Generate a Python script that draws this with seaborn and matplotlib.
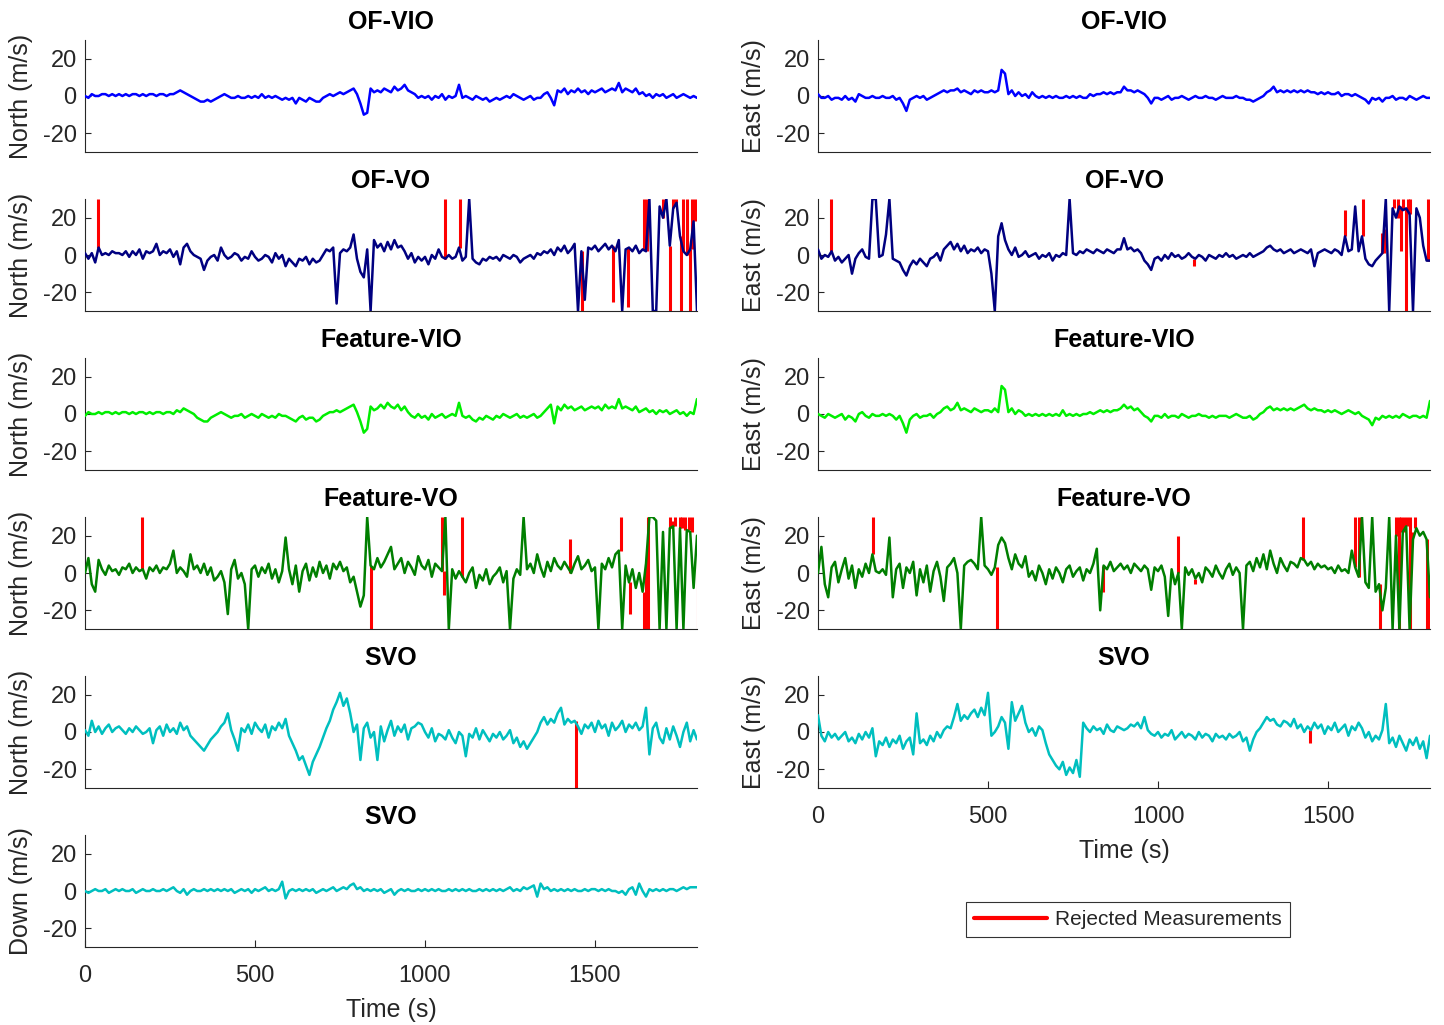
import numpy as np
import pandas as pd
import matplotlib
matplotlib.use("Agg")
import matplotlib.pyplot as plt
from matplotlib.lines import Line2D
import seaborn as sns

time_s = list(range(0, 1801, 10))

ofvio_north = [
    0, -1, 1, 0, 0, 1, 1, 0, 1, 0,
    1, 0, 1, 0, 1, 1, 0, 1, 0, 1,
    1, 0, 1, 1, 0, 1, 1, 2, 3, 2,
    1, 0, -1, -2, -3, -3, -2, -3, -2, -1,
    0, 1, 0, -1, -1, 0, -1, -1, 0, -1,
    0, -1, 1, -1, 0, -1, 0, -1, -2, -1,
    -2, -1, -4, -1, -2, -3, -1, -2, -3, -3,
    -1, 0, 1, 0, 1, 2, 1, 2, 3, 4,
    1, -4, -10, -9, 4, 2, 3, 2, 4, 3,
    2, 5, 3, 4, 6, 3, 2, 1, -1, 0,
    -1, 0, -2, 0, -1, 1, -2, 0, -1, 0,
    6, -1, 0, -1, -2, 0, -1, -2, -1, -3,
    -2, -1, -2, -1, 0, -1, 1, 0, -1, -2,
    -1, 0, -2, -1, -1, 1, 2, -1, -5, 3,
    2, 4, 1, 3, 2, 4, 2, 3, 1, 3,
    2, 3, 4, 2, 3, 4, 3, 7, 2, 4,
    3, 2, 4, 1, 2, 0, 1, -1, 1, 0,
    1, -1, 0, 1, -1, 0, 1, 0, -1, 0,
    -1]

ofvio_east = [
    1, -1, -1, 0, -2, -1, -1, -2, 0, -2,
    -1, -3, 1, 0, -1, -1, 0, -1, -1, 0,
    -1, -1, 0, -2, -1, -4, -8, -2, -1, 0,
    -1, 0, -2, -1, 0, 1, 2, 3, 2, 3,
    3, 4, 2, 3, 2, 1, 3, 2, 3, 2,
    2, 3, 2, 3, 14, 12, 1, 3, 0, 2,
    0, 1, -1, 2, 0, -1, 0, -1, 0, -1,
    0, -1, -1, 0, -1, 0, -1, 0, -1, -1,
    1, 0, 1, 1, 2, 1, 2, 1, 2, 2,
    5, 3, 3, 2, 3, 2, 1, -1, -4, -1,
    -1, -2, -1, 0, -2, -1, -1, 0, -1, -2,
    -1, 0, -1, -1, 0, -1, -1, -2, -1, 0,
    -1, -1, -1, 0, -1, -1, -2, -2, -3, -2,
    -1, 0, 2, 3, 5, 2, 3, 2, 3, 2,
    3, 2, 3, 2, 3, 2, 2, 1, 2, 1,
    2, 1, 1, 2, 0, 1, 1, 0, 1, 0,
    -1, -2, -4, -1, -2, -1, -3, -1, -1, 0,
    -2, -1, -1, -2, 0, -1, -2, -1, 0, -1,
    -1]

ofvo_north = [
    1, -2, 1, -4, 4, 0, 1, 0, 2, 1,
    1, 0, 2, -1, 2, 0, 3, -2, 2, 1,
    2, 6, 0, 2, 1, 3, -1, 2, -5, 4,
    6, 2, 0, -1, -2, -8, -3, -1, 0, -3,
    4, 0, -2, -1, 1, 0, -3, -1, -2, 2,
    -1, -3, -2, 0, -1, -4, 1, -2, 0, -6,
    -2, -4, -6, -2, -3, -1, -5, -2, -4, -3,
    0, 3, 2, 4, -26, 1, 3, 2, 4, 11,
    -2, -9, -12, 3, -30, 8, 4, 6, 2, 7,
    3, 8, 4, 5, 2, -2, 1, -4, -1, -3,
    -1, -5, 0, -2, 3, -1, -2, 0, -2, -1,
    4, -3, -1, 30, -2, -4, -5, -2, -3, -1,
    -2, -1, -3, 0, -1, -2, 0, -1, -4, -2,
    -1, 0, -2, 1, 0, 2, 1, 3, 0, 4,
    2, 5, 1, 3, 6, -30, 2, -24, 4, 3,
    5, 2, 4, 6, 3, 5, 2, 8, -30, 3,
    4, 2, 5, 1, 3, 2, 30, -30, -30, 26,
    20, 30, 5, 25, 28, 10, 2, 0, 3, 18,
    -30]
ofvo_north_rej_t = [37, 1060, 1104, 1462, 1553, 1596, 1645, 1652, 1665, 1685, 1700,
                    1708, 1722, 1730, 1738, 1752, 1760, 1770, 1778, 1785, 1795]
ofvo_north_rej_v = [30, 30, 30, -30, -25, -28, 30, 30, 30, -30, 30,
                    30, -30, 30, 30, -30, 30, 30, -30, 30, 30]

ofvo_east = [
    3, -2, 0, -1, 2, -3, -1, -4, -2, 0,
    -10, -2, 1, 3, -1, -2, 30, 30, -1, 0,
    11, 30, -2, -3, -4, -8, -11, -6, -3, -5,
    -2, -4, -6, -2, -1, 1, -3, 3, 5, 7,
    3, 6, 2, 5, 1, 3, 2, 4, 1, 3,
    2, -10, -30, 10, 17, 8, 3, 0, 4, -1,
    0, 2, -1, 0, 1, -2, 0, -1, 1, -3,
    0, -1, 1, 0, 30, 1, 0, 2, 1, 3,
    2, 1, 3, 2, 1, 3, 2, 1, 3, 3,
    9, 3, 4, 2, 3, 1, -3, -5, -8, -2,
    -1, -3, 0, -2, 1, -1, 0, -2, -1, 1,
    -1, -2, 0, -1, -3, 0, -1, -2, 0, -1,
    1, -1, 0, -2, -1, 0, -1, 1, -1, 0,
    1, 2, 4, 5, 3, 2, 3, 1, 2, 3,
    1, 2, 3, 2, 1, 3, -6, 1, 2, 3,
    2, 1, 3, 2, 0, 10, 2, 3, 26, 2,
    10, -2, -5, -6, -3, -1, 1, 30, -30, 25,
    20, 26, 24, 25, 22, -30, 25, 20, 5, -3,
    -3]
ofvo_east_rej_t = [37, 521, 1106, 1550, 1602, 1658, 1664, 1683, 1695, 1705, 1714,
                   1720, 1728, 1736, 1742, 1748, 1793, 1798]
ofvo_east_rej_v = [30, -30, -6, 24, 30, 12, 14, -30, 30, 30, 2,
                   30, -30, 30, 30, -30, 30, 16]

fvio_north = [
    -1, 1, 0, 0, 1, 0, 1, 1, 0, 1,
    0, 1, 1, 0, 1, 0, 1, 1, 0, 1,
    0, 1, 1, 0, 1, 1, 0, 2, 1, 3,
    2, 1, 0, -2, -3, -4, -4, -2, -1, 0,
    1, 0, -1, -2, -1, -1, 0, -2, -1, 0,
    -1, -2, 0, -1, -2, -1, -2, 0, -1, -1,
    -2, -3, -4, -2, -1, -3, -2, -2, -4, -3,
    -1, 0, 1, 1, 2, 1, 2, 3, 4, 5,
    1, -4, -10, -8, 4, 2, 3, 5, 3, 6,
    4, 3, 5, 2, 4, 1, -1, -2, 0, -2,
    -1, -3, 0, -2, -1, 0, -2, -1, 0, -1,
    6, -1, -2, -1, -3, -4, -2, -3, -1, -2,
    -3, -1, -2, 0, -1, -2, -1, 0, -2, -1,
    -2, -1, 0, -2, -1, 1, 3, 5, -5, 4,
    2, 5, 3, 4, 2, 3, 4, 2, 3, 4,
    3, 4, 2, 5, 3, 4, 3, 8, 3, 4,
    3, 2, 4, 1, 2, 3, 1, 2, 0, 2,
    1, 2, 0, 1, 2, 0, 1, -1, 1, 0,
    8]

fvio_east = [
    0, -1, -2, 0, -1, -2, -1, 0, -3, -1,
    -2, -4, 0, 1, -1, -2, 0, -1, -1, 0,
    -1, 0, -1, -3, -1, -5, -10, -3, -1, 0,
    -2, -1, -1, 0, -2, 0, 1, 3, 4, 2,
    3, 6, 2, 3, 2, 1, 3, 2, 1, 2,
    2, 1, 3, 1, 15, 13, 1, 3, 0, 2,
    1, -1, 0, -1, 0, -1, 0, -1, 0, -1,
    0, -1, 2, -1, 0, -1, 0, -1, 0, 0,
    1, 0, 1, 2, 1, 2, 1, 2, 2, 3,
    5, 3, 4, 2, 3, 1, -1, -2, -4, -1,
    -1, -2, 0, -2, -1, -1, -2, 0, -1, -2,
    -1, -1, 0, -1, -1, -2, -1, -2, -1, -1,
    -1, -2, -1, 0, -1, -2, -2, -1, -3, -2,
    0, 1, 3, 4, 2, 3, 2, 3, 2, 3,
    2, 3, 4, 5, 3, 2, 3, 2, 2, 1,
    2, 1, 2, 1, 0, 1, 2, 1, 0, 1,
    -1, -2, -3, -6, -2, -3, -1, -2, -1, -2,
    -1, -2, 0, -1, -2, -1, -1, -2, -1, -2,
    7]

fvo_north = [
    0, 8, -6, -10, 7, 2, -1, 4, 1, 2,
    -1, 3, 2, 5, 0, 3, 1, 2, -3, 3,
    1, 4, 0, 3, 2, 5, 12, 0, 3, 1,
    -2, 10, 2, 4, 0, 5, -1, 3, -4, -2,
    1, -5, -22, 2, 7, -3, 0, -6, -30, 2,
    4, -2, 3, 0, 5, -3, 2, -5, 1, 19,
    2, -6, 4, -10, 1, 5, -4, 3, -2, 6,
    0, 4, -3, 5, 2, 6, 1, 3, -5, -2,
    -10, -18, -12, 30, 4, 2, 8, 3, 6, 10,
    14, 2, 5, 8, 0, 6, 3, -1, 9, 4,
    2, 7, -2, 5, 3, 1, 30, -30, 2, -3,
    1, -2, -5, 0, 3, -8, -1, -4, 2, -6,
    -2, 0, 3, -5, 1, -30, -3, 2, -1, 30,
    2, 5, 0, 10, 3, -2, 6, 1, 8, 4,
    2, 6, 3, 0, 5, 9, 2, 4, 7, 1,
    3, -30, 5, 2, 8, 3, 10, 12, -30, 4,
    -5, 2, -8, 0, -10, 5, 30, 30, 28, -30,
    22, -30, 24, 25, -30, 24, -30, 23, 22, -8,
    20]
fvo_north_rej_t = [168, 840, 1050, 1055, 1108, 1427, 1575, 1603, 1643, 1650, 1657,
                   1722, 1728, 1735, 1750, 1755, 1766, 1775, 1785, 1803]
fvo_north_rej_v = [30, -30, 30, -12, 30, 18, 30, -22, -30, -30, -30,
                   30, 28, 30, 30, 30, 30, 30, 30, -30]

fvo_east = [
    0, 14, -6, -13, 3, 6, -5, 2, 8, -3,
    4, -8, 2, -2, 5, 0, 10, 1, 0, 2,
    -1, 19, -13, 2, 5, -8, 3, 0, 6, -12,
    2, -5, 4, -10, 1, 6, -2, -15, 3, 5,
    8, 0, -30, 4, 6, 7, 5, 2, 30, 4,
    2, -1, 3, 15, 19, 16, 8, 2, 10, 5,
    3, 9, -2, 1, -4, 4, 0, -6, 2, -3,
    3, 0, -5, 2, 4, -2, 1, 3, -4, 2,
    0, 5, 13, -20, 4, 2, 6, 1, 3, 5,
    2, 4, 0, 5, 3, 1, 4, 2, -9, 3,
    1, 4, -2, -23, 2, -6, 0, -30, 3, -1,
    2, -3, 0, -5, 3, 1, -2, 4, 0, -3,
    2, 5, -1, 3, 0, -30, 4, 6, 1, 8,
    3, 10, 2, 12, 5, 0, 8, 4, 1, 6,
    5, 3, 8, 7, 4, 6, 2, 5, 3, 4,
    2, 3, 0, 4, 1, 2, 0, 12, 3, -2,
    30, -5, -8, 30, -10, -6, -20, -8, 30, -30,
    20, -30, 22, 25, -30, 18, 24, 20, 22, 18,
    -13]
fvo_east_rej_t = [163, 525, 838, 1058, 1110, 1427, 1578, 1590, 1652, 1660, 1700,
                  1708, 1716, 1724, 1732, 1740, 1748, 1756, 1790, 1800]
fvo_east_rej_v = [30, -30, -10, 20, -6, 30, 30, 30, -30, -20, 30,
                  30, 30, 30, 30, 30, 22, 30, -30, -30]

svo_north = [
    1, -2, 6, 0, 3, -1, 2, 4, 0, 2,
    3, 1, -1, 2, 0, 3, 1, -1, 0, 2,
    -6, 1, 3, -2, 4, 0, 2, -1, 5, 1,
    3, -2, -4, -6, -8, -10, -7, -4, -2, 0,
    3, 5, 10, 1, -4, -10, 2, 0, 4, -1,
    5, 2, 0, 4, -3, 3, 1, 5, 2, 7,
    -2, -6, -10, -15, -13, -18, -23, -16, -12, -8,
    -3, 2, 6, 12, 16, 21, 14, 18, 10, 0,
    4, -15, 2, 5, -3, 0, -15, 3, -5, 1,
    6, -2, 3, 0, 4, -4, 2, 3, 5, 4,
    0, -3, 2, -5, -1, -2, -4, 1, -3, -6,
    0, -2, -13, -1, -3, 2, -4, 1, -2, -5,
    -1, -3, 0, -4, -2, 1, -6, -3, -8, -5,
    -9, -6, -3, 0, 5, 8, 4, 7, 5, 10,
    13, 4, 7, 5, 6, 3, -1, 4, 2, 5,
    0, 6, 2, 4, -2, 5, 1, 3, 6, 0,
    4, 2, 5, 1, 3, 13, -12, 2, 5, -3,
    -6, 2, -4, 3, -2, -8, 0, 5, -5, 1,
    -4]
svo_north_rej_t = [1444]
svo_north_rej_v = [-30]

svo_east = [
    9, -2, -5, 0, -3, -1, -4, -2, 0, -5,
    -3, -6, -1, -4, 0, -3, 2, -13, -5, -7,
    -3, -8, -4, -6, -2, -9, -5, -3, -12, 10,
    -6, -4, -7, -2, -5, 0, -3, 1, 3, 2,
    8, 15, 6, 9, 7, 10, 12, 8, 13, 9,
    21, -2, 0, 3, 8, 5, -9, 16, 6, 10,
    14, 5, 0, 2, -2, 3, 1, -6, -12, -15,
    -18, -20, -16, -23, -19, -22, -15, -24, 5, 2,
    0, 3, 1, 2, -1, 4, 1, 0, 3, 2,
    1, 2, 4, 3, 5, 2, 8, 1, -1, -2,
    0, -3, -1, -2, 1, -4, -2, 0, -3, -1,
    -2, -4, 0, -3, -1, -2, -5, -1, -3, -2,
    -4, -1, -3, -2, 0, -5, -3, -10, -4, 0,
    2, 5, 8, 6, 7, 4, 3, 6, 5, 3,
    7, 2, 4, 0, 3, 1, 5, 2, 4, -1,
    3, 1, 5, 0, 2, 4, -2, 3, 1, 5,
    2, -3, 0, -5, -2, -4, 1, 15, -6, -3,
    -8, -2, -6, -10, -4, -7, -3, -9, -5, -14,
    -2]
svo_east_rej_t = [1448]
svo_east_rej_v = [-6]

svo_down = [
    0, -1, 0, 1, 0, 0, 1, -1, 0, 1,
    0, 1, 0, 0, 1, -1, 0, 1, 0, 0,
    1, 0, 0, 1, 0, 1, 2, 0, -1, 1,
    -2, 0, 1, 0, 0, 1, 0, 1, 0, 1,
    0, 1, 0, 1, -1, 0, 1, 0, 1, -1,
    1, 0, 1, 2, 0, 1, 0, 1, 5, -4,
    0, 1, 0, 1, 0, 1, 0, 1, -1, 0,
    1, 0, 1, 2, 0, 1, 2, 1, 3, 4,
    1, 2, 0, 1, 0, 1, 0, 1, -1, 0,
    1, -2, 0, 1, 0, 1, 0, 0, 1, 0,
    1, 0, 1, 0, 1, 0, 0, 1, 0, 1,
    0, 1, 0, 1, 0, 0, 1, 0, 1, 0,
    1, 0, 1, 0, 1, 2, 0, 1, 0, 2,
    1, 2, 3, -3, 4, 1, 2, 0, 1, 0,
    1, 0, 1, 0, 1, 0, 0, 1, 0, 1,
    1, 0, 1, 0, 1, 0, 0, -1, 0, -2,
    1, 2, -2, 4, 0, -3, 1, 0, 1, 0,
    1, 0, 1, 1, 0, 1, 2, 1, 2, 2,
    2]

x_ticks = [0, 500, 1000, 1500]
y_ticks = [-20, 0, 20]

# ---------------- styling ----------------
sns.set_style("ticks")
plt.rcParams["font.family"] = ["Liberation Sans", "DejaVu Sans"]
TXT = "#262626"
RED = "#FF0000"
C_OFVIO = "#0000FF"
C_OFVO = "#000080"
C_FVIO = "#00EE00"
C_FVO = "#007F00"
C_SVO = "#00BFBF"

W, H = 1444, 1025
fig = plt.figure(figsize=(W / 100, H / 100), dpi=100)

col_left = [85, 818]
ax_w, ax_h = 612, 112
row_top = [40, 199, 358, 517, 676, 835]

panels = [
    (0, 0, "OF-VIO", "North (m/s)", ofvio_north, C_OFVIO, [], [], False),
    (0, 1, "OF-VIO", "East (m/s)", ofvio_east, C_OFVIO, [], [], False),
    (1, 0, "OF-VO", "North (m/s)", ofvo_north, C_OFVO, ofvo_north_rej_t, ofvo_north_rej_v, False),
    (1, 1, "OF-VO", "East (m/s)", ofvo_east, C_OFVO, ofvo_east_rej_t, ofvo_east_rej_v, False),
    (2, 0, "Feature-VIO", "North (m/s)", fvio_north, C_FVIO, [], [], False),
    (2, 1, "Feature-VIO", "East (m/s)", fvio_east, C_FVIO, [], [], False),
    (3, 0, "Feature-VO", "North (m/s)", fvo_north, C_FVO, fvo_north_rej_t, fvo_north_rej_v, False),
    (3, 1, "Feature-VO", "East (m/s)", fvo_east, C_FVO, fvo_east_rej_t, fvo_east_rej_v, False),
    (4, 0, "SVO", "North (m/s)", svo_north, C_SVO, svo_north_rej_t, svo_north_rej_v, False),
    (4, 1, "SVO", "East (m/s)", svo_east, C_SVO, svo_east_rej_t, svo_east_rej_v, True),
    (5, 0, "SVO", "Down (m/s)", svo_down, C_SVO, [], [], True),
]

t_arr = np.array(time_s)
for r, c, title, ylabel, vals, color, rej_t, rej_v, show_x in panels:
    assert len(vals) == len(time_s), (title, ylabel, len(vals))
    ax = fig.add_axes([col_left[c] / W, 1 - (row_top[r] + ax_h) / H, ax_w / W, ax_h / H])
    if rej_t:
        base = [vals[int(np.argmin(np.abs(t_arr - t)))] for t in rej_t]
        ax.vlines(rej_t, base, rej_v, colors=RED, linewidth=2.2, zorder=2)
    df = pd.DataFrame({"t": time_s, "v": vals})
    sns.lineplot(data=df, x="t", y="v", ax=ax, color=color, linewidth=1.8,
                 estimator=None, zorder=3)
    ax.set_xlim(0, 1800)
    ax.set_ylim(-30, 30)
    ax.set_yticks(y_ticks)
    ax.set_yticklabels([str(v) for v in y_ticks])
    for s in ["top", "right"]:
        ax.spines[s].set_visible(False)
    for s in ["left", "bottom"]:
        ax.spines[s].set_color(TXT)
        ax.spines[s].set_linewidth(0.8)
    ax.tick_params(axis="y", direction="in", length=4, labelsize=17, colors=TXT, pad=6)
    ax.set_ylabel(ylabel, fontsize=18, color=TXT, labelpad=7)
    ax.set_title(title, fontsize=18, fontweight="bold", color="black", pad=8)
    if show_x:
        ax.set_xticks(x_ticks)
        ax.set_xticklabels([str(v) for v in x_ticks])
        ax.tick_params(axis="x", direction="in", length=5, labelsize=17, colors=TXT, pad=13)
        ax.set_xlabel("Time (s)", fontsize=18, color=TXT, labelpad=8)
    else:
        ax.set_xticks([])
        ax.set_xlabel("")

handle = Line2D([0], [0], color=RED, linewidth=3)
leg = fig.legend([handle], ["Rejected Measurements"], loc="center",
                 bbox_to_anchor=(1128 / W, 1 - 919.5 / H), frameon=True, fancybox=False,
                 edgecolor="black", fontsize=15, handlelength=3.5, borderpad=0.4,
                 handletextpad=0.4)
leg.get_frame().set_linewidth(0.8)
for txt in leg.get_texts():
    txt.set_color(TXT)

fig.savefig("out.png", dpi=100)
